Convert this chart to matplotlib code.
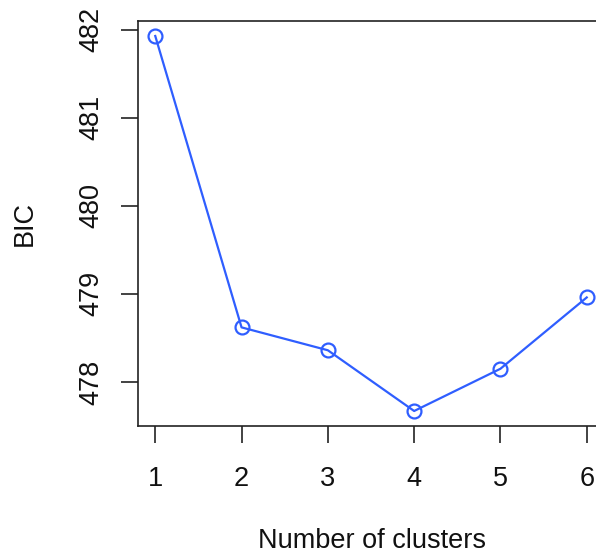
import matplotlib
matplotlib.use("Agg")
import matplotlib.pyplot as plt
import numpy as np

clusters = [1, 2, 3, 4, 5, 6]
bic = [481.93, 478.62, 478.36, 477.67, 478.15, 478.96]
yticks = [478, 479, 480, 481, 482]

plt.rcParams['font.family'] = ['Liberation Sans', 'DejaVu Sans']

W, H = 596, 556
fig = plt.figure(figsize=(W / 100, H / 100), dpi=100)
ax = fig.add_axes([138 / W, 130 / H, 466 / W, 405 / H])

color = '#2f5eff'
ax.plot(clusters, bic, color=color, lw=1.6, marker='o', ms=10,
        mfc='none', mec=color, mew=1.6, clip_on=False)

xr = max(clusters) - min(clusters)
ax.set_xlim(min(clusters) - 0.04 * xr, max(clusters) + 0.04 * xr)
yr = max(bic) - min(bic)
ax.set_ylim(min(bic) - 0.04 * yr, max(bic) + 0.04 * yr)

ax.set_xticks(clusters)
ax.set_xticklabels([str(c) for c in clusters])
ax.set_yticks(yticks)
ax.set_yticklabels([str(t) for t in yticks], rotation=90, va='center')

for s in ax.spines.values():
    s.set_linewidth(1.2)
    s.set_color('#222222')
ax.tick_params(axis='both', length=12, width=1.2, color='#222222',
               labelsize=19.5, labelcolor='#111111')
ax.tick_params(axis='x', pad=17)
ax.tick_params(axis='y', pad=12)

fig.text(25 / W, 1 - 224 / H, 'BIC', rotation=90, ha='center', va='center',
         fontsize=19.5, color='#111111')
fig.text(372 / W, 1 - 541 / H, 'Number of clusters', ha='center', va='center',
         fontsize=19.5, color='#111111')

fig.savefig('out.png', dpi=100)
